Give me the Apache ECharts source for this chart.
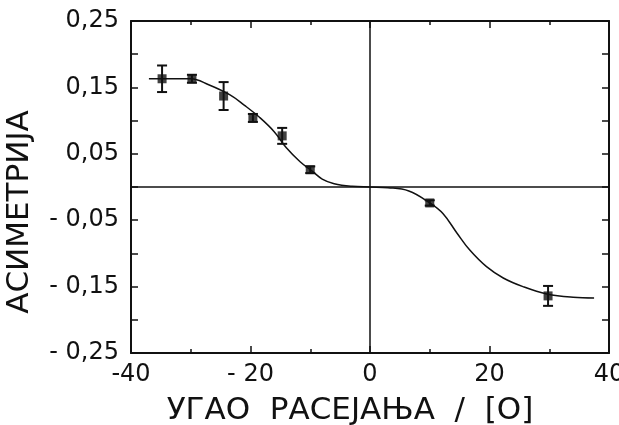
<!DOCTYPE html>
<html>
<head>
<meta charset="utf-8">
<script src="https://cdn.jsdelivr.net/npm/echarts@6/dist/echarts.min.js"></script>
<style>
  html, body { margin: 0; padding: 0; background: #fff; }
  #chart { width: 619px; height: 425px; }
</style>
</head>
<body>
<div id="chart"></div>
<script>
// измерене тачке (угао, асиметрија, грешка)
const pointX = [-34.8, -29.8, -24.5, -19.6, -14.7, -10, 10, 29.8];
const pointY = [0.163, 0.163, 0.137, 0.104, 0.077, 0.026, -0.024, -0.164];
const pointErr = [0.02, 0.006, 0.021, 0.006, 0.012, 0.005, 0.004, 0.015];

// провучена крива
const curveX = [-37, -30, -27, -23.5, -21, -18.5, -16, -14, -11.7, -9.7, -8, -6, -3, 0, 3, 6.5, 10, 12.2, 14.6, 16.7, 19.5, 22.3, 25.6, 29.6, 34, 37.5];
const curveY = [0.163, 0.163, 0.154, 0.139, 0.123, 0.105, 0.083, 0.059, 0.038, 0.024, 0.012, 0.005, 0.001, 0, -0.001, -0.006, -0.024, -0.04, -0.07, -0.095, -0.12, -0.137, -0.15, -0.161, -0.166, -0.167];

const xTicks = [-40, -20, 0, 20, 40];
const xTickLabels = ['-40', '- 20', '0', '20', '40'];

const font = 'DejaVu Sans';
const ink = '#111';

function yLabel(v) {
    const h = Math.round(Math.abs(v) * 100);
    if (h % 10 !== 5) return '';
    const s = '0,' + String(h).padStart(2, '0');
    return v < 0 ? '- ' + s : s;
}

function xLabel(v) {
    const i = xTicks.indexOf(Math.round(v));
    return i >= 0 ? xTickLabels[i] : '';
}

const chart = echarts.init(document.getElementById('chart'));

const axisLine = { show: true, onZero: false, lineStyle: { color: ink, width: 2 } };
const tick = { inside: true, length: 7, lineStyle: { color: ink, width: 1.5 } };
const minor = { show: true, splitNumber: 2, length: 4, lineStyle: { color: ink, width: 1.5 } };

chart.setOption({
    backgroundColor: '#fff',
    animation: false,
    grid: { left: 131, right: 10, top: 21, bottom: 72, outerBoundsMode: 'none', containLabel: false },
    xAxis: [
        {
            type: 'value', min: -40, max: 40, interval: 20,
            axisLine: axisLine, axisTick: tick, minorTick: minor,
            splitLine: { show: false },
            axisLabel: { formatter: xLabel, color: ink, fontFamily: font, fontSize: 24, margin: 10 },
            name: 'УГАО  РАСЕЈАЊА  /  [О]',
            nameLocation: 'middle',
            nameGap: 42,
            nameTextStyle: { color: ink, fontFamily: font, fontSize: 31, padding: [0, 40, 0, 0] }
        },
        {
            type: 'value', min: -40, max: 40, interval: 20, position: 'top',
            axisLine: axisLine, axisTick: tick, minorTick: minor,
            splitLine: { show: false },
            axisLabel: { show: false }
        }
    ],
    yAxis: [
        {
            type: 'value', min: -0.25, max: 0.25, interval: 0.05,
            axisLine: axisLine, axisTick: tick,
            splitLine: { show: false },
            axisLabel: { formatter: yLabel, color: ink, fontFamily: font, fontSize: 24, margin: 12 },
            name: 'АСИМЕТРИЈА',
            nameLocation: 'middle',
            nameGap: 96,
            nameRotate: 90,
            nameTextStyle: { color: ink, fontFamily: font, fontSize: 31, padding: [0, 50, 0, 0] }
        },
        {
            type: 'value', min: -0.25, max: 0.25, interval: 0.05, position: 'right',
            axisLine: axisLine, axisTick: tick,
            splitLine: { show: false },
            axisLabel: { show: false }
        }
    ],
    series: [
        {
            type: 'line',
            data: curveX.map((x, i) => [x, curveY[i]]),
            smooth: 0.4,
            symbol: 'none',
            lineStyle: { color: ink, width: 1.5 },
            markLine: {
                silent: true,
                symbol: 'none',
                label: { show: false },
                lineStyle: { color: ink, width: 1.5, type: 'solid' },
                data: [{ yAxis: 0 }, { xAxis: 0 }]
            },
            z: 2
        },
        {
            type: 'custom',
            data: pointX.map((x, i) => [x, pointY[i], pointErr[i]]),
            renderItem: function (params, api) {
                const x = api.value(0), y = api.value(1), e = api.value(2);
                const lo = api.coord([x, y - e]);
                const hi = api.coord([x, y + e]);
                const w = 5;
                const style = { stroke: ink, lineWidth: 2 };
                return {
                    type: 'group',
                    children: [
                        { type: 'line', shape: { x1: lo[0], y1: lo[1], x2: hi[0], y2: hi[1] }, style: style },
                        { type: 'line', shape: { x1: lo[0] - w, y1: lo[1], x2: lo[0] + w, y2: lo[1] }, style: style },
                        { type: 'line', shape: { x1: hi[0] - w, y1: hi[1], x2: hi[0] + w, y2: hi[1] }, style: style }
                    ]
                };
            },
            z: 3
        },
        {
            type: 'scatter',
            data: pointX.map((x, i) => [x, pointY[i]]),
            symbol: 'rect',
            symbolSize: 9,
            itemStyle: { color: ink },
            z: 4
        }
    ]
});
</script>
</body>
</html>
